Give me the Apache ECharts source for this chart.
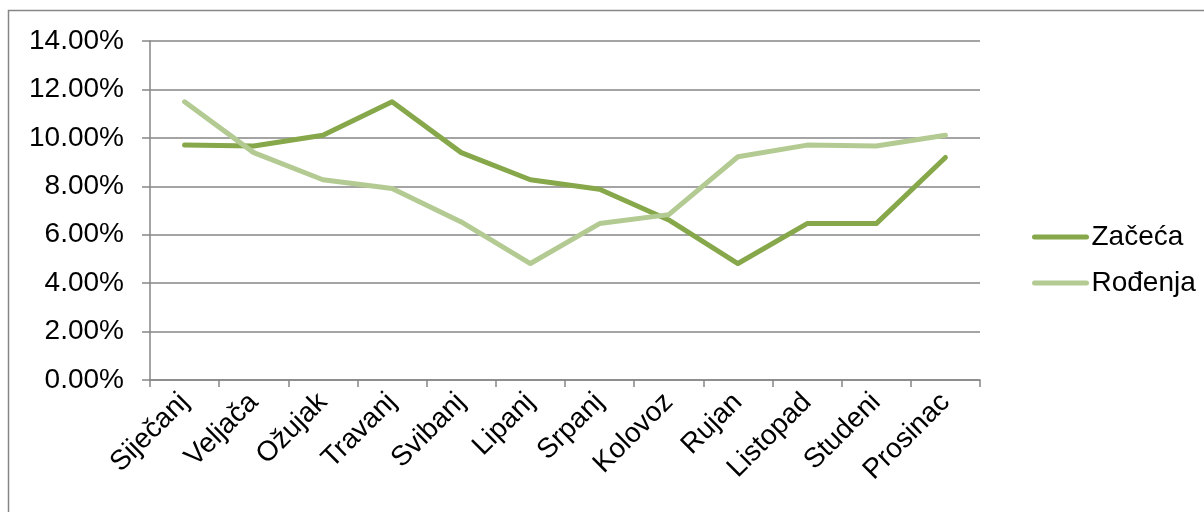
<!DOCTYPE html>
<html>
<head>
<meta charset="utf-8">
<script src="https://cdn.jsdelivr.net/npm/echarts@6/dist/echarts.min.js"></script>
<style>
    html, body { margin: 0; padding: 0; background: #fff; }
    #chart { width: 1204px; height: 512px; }
</style>
</head>
<body>
<div id="chart"></div>
<script>
var months = ['Siječanj', 'Veljača', 'Ožujak', 'Travanj', 'Svibanj', 'Lipanj',
    'Srpanj', 'Kolovoz', 'Rujan', 'Listopad', 'Studeni', 'Prosinac'];
// udjeli (0.097 = 9.70%)
var zaceca = [0.0970, 0.0966, 0.1011, 0.1149, 0.0939, 0.0827,
    0.0788, 0.0661, 0.0481, 0.0646, 0.0646, 0.0919];
var rodenja = [0.1149, 0.0939, 0.0827, 0.0791, 0.0653, 0.0481,
    0.0646, 0.0683, 0.0922, 0.0970, 0.0966, 0.1011];
var yTicks = { min: 0, max: 0.14, step: 0.02 };

var myChart = echarts.init(document.getElementById('chart'));
var font = 'Liberation Sans, Arial, sans-serif';

var option = {
    backgroundColor: '#ffffff',
    animation: false,
    graphic: [{
        type: 'rect',
        shape: { x: 8.5, y: 10.5, width: 1300, height: 600 },
        style: { fill: 'none', stroke: '#868686', lineWidth: 1.5 },
        silent: true
    }],
    grid: {
        left: 150,
        right: 224,
        top: 41,
        bottom: 132
    },
    legend: {
        orient: 'vertical',
        left: 1027,
        top: 218,
        itemWidth: 52,
        itemHeight: 14,
        itemGap: 18,
        itemStyle: { opacity: 0 },
        lineStyle: { width: 5, cap: 'round' },
        textStyle: {
            color: '#000',
            fontSize: 28,
            fontFamily: font
        },
        data: ['Začeća', 'Rođenja']
    },
    xAxis: [{
        type: 'category',
        data: months,
        boundaryGap: true,
        axisLine: {
            show: true,
            lineStyle: { color: '#868686', width: 1.5 }
        },
        axisTick: {
            show: true,
            length: 7,
            lineStyle: { color: '#868686', width: 1.5 }
        },
        axisLabel: {
            interval: 0,
            rotate: 45,
            margin: 18,
            color: '#000',
            fontSize: 28,
            fontFamily: font
        },
        splitLine: { show: false }
    }],
    yAxis: [{
        type: 'value',
        min: yTicks.min,
        max: yTicks.max,
        interval: yTicks.step,
        axisLabel: {
            margin: 26,
            color: '#000',
            fontSize: 28,
            fontFamily: font,
            formatter: function (v) {
                return (v * 100).toFixed(2) + '%';
            }
        },
        axisLine: {
            show: true,
            lineStyle: { color: '#868686', width: 1.5 }
        },
        axisTick: {
            show: true,
            inside: false,
            length: 8,
            lineStyle: { color: '#868686', width: 1.5 }
        },
        splitLine: {
            lineStyle: { color: '#868686', width: 1.5 }
        }
    }],
    series: [
        {
            name: 'Začeća',
            type: 'line',
            data: zaceca,
            symbol: 'none',
            lineStyle: { color: '#86a74a', width: 5, join: 'round', cap: 'round' },
            itemStyle: { color: '#86a74a' }
        },
        {
            name: 'Rođenja',
            type: 'line',
            data: rodenja,
            symbol: 'none',
            lineStyle: { color: '#b3cb93', width: 5, join: 'round', cap: 'round' },
            itemStyle: { color: '#b3cb93' }
        }
    ]
};

myChart.setOption(option);
window.addEventListener("resize", function () {
    myChart.resize();
});
</script>
</body>
</html>
